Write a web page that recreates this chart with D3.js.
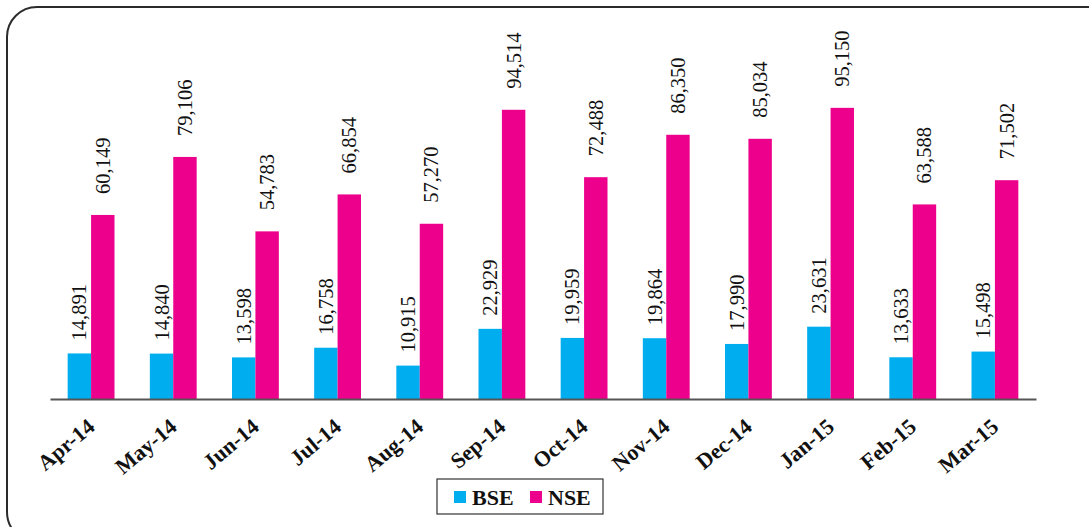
<!DOCTYPE html>
<html>
<head>
<meta charset="utf-8">
<script src="https://cdn.jsdelivr.net/npm/d3@7"></script>
<style>
  body { margin: 0; background: #fff; }
  svg { display: block; }
</style>
</head>
<body>
<svg width="1089" height="527"></svg>
<script>
const months = ["Apr-14", "May-14", "Jun-14", "Jul-14", "Aug-14", "Sep-14",
                "Oct-14", "Nov-14", "Dec-14", "Jan-15", "Feb-15", "Mar-15"];
const seriesNames = ["BSE", "NSE"];
const bse = [14891, 14840, 13598, 16758, 10915, 22929, 19959, 19864, 17990, 23631, 13633, 15498];
const nse = [60149, 79106, 54783, 66854, 57270, 94514, 72488, 86350, 85034, 95150, 63588, 71502];
const colors = ["#00aeef", "#ec008c"];

const svg = d3.select("svg");
const serif = "'Liberation Serif', serif";

// frame with rounded corners, running off the right/bottom edge
svg.append("rect")
    .attr("x", 7).attr("y", 7)
    .attr("width", 1110).attr("height", 535)
    .attr("rx", 30).attr("ry", 30)
    .attr("fill", "none")
    .attr("stroke", "#2b2b2b")
    .attr("stroke-width", 2);

const baseY = 399;

const x0 = d3.scaleBand()
    .domain(months)
    .range([50, 1036])
    .paddingInner(0.43)
    .paddingOuter(0.215);

const x1 = d3.scaleBand()
    .domain(seriesNames)
    .range([0, x0.bandwidth()]);

const y = d3.scaleLinear()
    .domain([0, 100000])
    .range([baseY, 93]);

const rows = months.map((m, i) => ({ m, vals: [bse[i], nse[i]] }));

const groups = svg.selectAll("g.month")
    .data(rows)
    .enter()
    .append("g")
    .attr("class", "month")
    .attr("transform", d => `translate(${x0(d.m)},0)`);

groups.selectAll("rect")
    .data(d => d.vals.map((v, k) => ({ k, v })))
    .enter()
    .append("rect")
    .attr("x", d => x1(seriesNames[d.k]))
    .attr("y", d => y(d.v))
    .attr("width", x1.bandwidth())
    .attr("height", d => baseY - y(d.v))
    .attr("fill", d => colors[d.k]);

const labelGap = [13, 21];
groups.selectAll("text.val")
    .data(d => d.vals.map((v, k) => ({ k, v })))
    .enter()
    .append("text")
    .attr("class", "val")
    .attr("transform", d => `translate(${x1(seriesNames[d.k]) + x1.bandwidth() / 2 + 7},${y(d.v) - labelGap[d.k]}) rotate(-90)`)
    .attr("text-anchor", "start")
    .style("font-family", serif)
    .style("font-size", "20.5px")
    .attr("fill", "#111")
    .text(d => d3.format(",")(d.v));

// x axis
const xAxis = svg.append("g")
    .attr("transform", `translate(0,${baseY})`)
    .call(d3.axisBottom(x0).tickSize(0).tickSizeOuter(0));

xAxis.select(".domain")
    .attr("stroke", "#555")
    .attr("stroke-width", 2);

xAxis.selectAll("text")
    .attr("x", 0).attr("y", 0).attr("dy", null)
    .attr("transform", "translate(5,30) rotate(-40)")
    .attr("text-anchor", "end")
    .style("font-family", serif)
    .style("font-size", "22px")
    .style("font-weight", "bold")
    .attr("fill", "#111");

// legend
const leg = svg.append("g").attr("transform", "translate(437,479)");
leg.append("rect")
    .attr("width", 166).attr("height", 35)
    .attr("fill", "#fff")
    .attr("stroke", "#333")
    .attr("stroke-width", 1.2);

const legX = [17, 93];
seriesNames.forEach((s, i) => {
    leg.append("rect")
        .attr("x", legX[i]).attr("y", 12)
        .attr("width", 12).attr("height", 12)
        .attr("fill", colors[i]);
    leg.append("text")
        .attr("x", legX[i] + 18).attr("y", 26)
        .style("font-family", serif)
        .style("font-size", "22px")
        .style("font-weight", "bold")
        .attr("fill", "#111")
        .text(s);
});
</script>
</body>
</html>
